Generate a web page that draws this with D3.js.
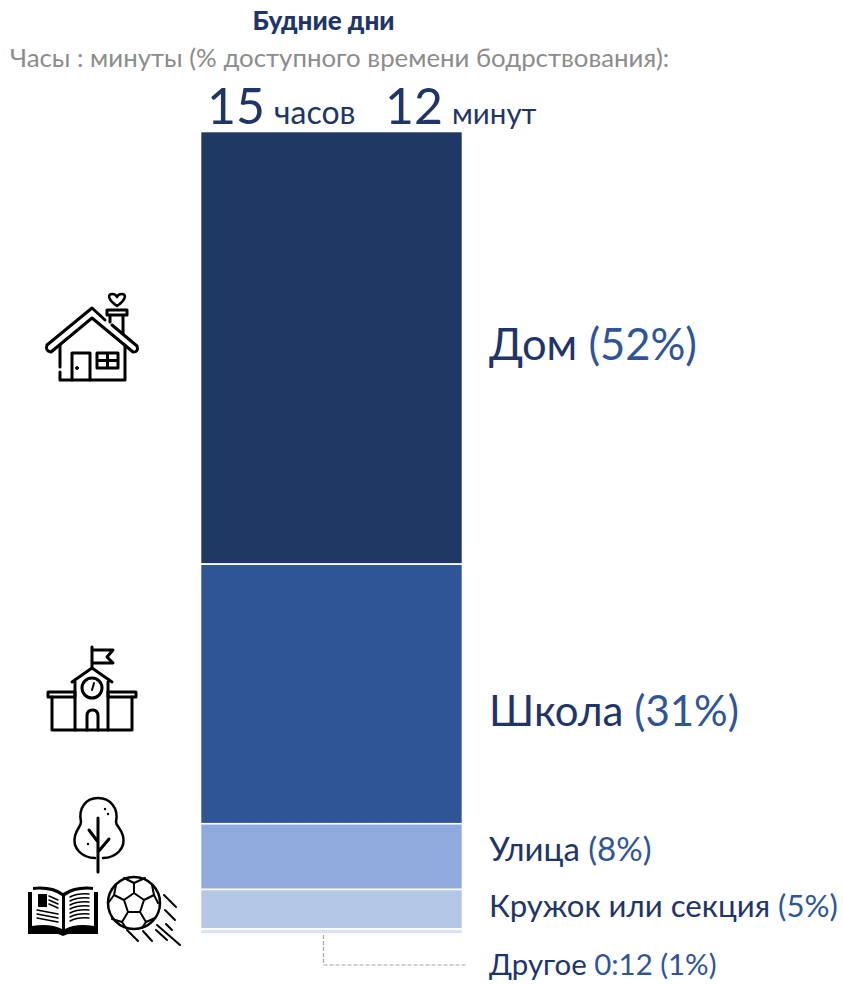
<!DOCTYPE html>
<html>
<head>
<meta charset="utf-8">
<script src="https://cdn.jsdelivr.net/npm/d3@7"></script>
<style>
  html, body { margin: 0; padding: 0; background: #fff; }
  svg { display: block; }
  text { font-family: "Lato", "Noto Sans", sans-serif; }
  .icon { fill: none; stroke: #000; stroke-linecap: round; stroke-linejoin: round; }
</style>
</head>
<body>
<svg width="843" height="985"></svg>
<script>
// data
categories = ["Дом", "Школа", "Улица", "Кружок или секция", "Другое"];
shares = [52, 31.2, 7.9, 4.75, 0.6];
percentLabels = ["(52%)", "(31%)", "(8%)", "(5%)", "0:12 (1%)"];
totalParts = ["15", "часов", "12", "минут"];
colors = ["#203864", "#2f5597", "#8faadc", "#b4c7e7", "#dae3f3"];

darkBlue = "#1f3568";
midBlue = "#2f5597";

svg = d3.select("svg");

// stacked single column
stacked = [];
running = 0;
shares.forEach((v, i) => {
  stacked.push({ name: categories[i], pct: percentLabels[i], y0: running, y1: running + v, color: colors[i] });
  running += v;
});

y = d3.scaleLinear().domain([0, running]).range([131.5, 934]);
x = d3.scaleBand().domain(["Будние дни"]).range([200.5, 462.5]);

svg.selectAll(".bar")
  .data(stacked)
  .enter().append("rect")
    .attr("class", "bar")
    .attr("x", x("Будние дни"))
    .attr("width", x.bandwidth())
    .attr("y", d => y(d.y0))
    .attr("height", d => y(d.y1) - y(d.y0))
    .attr("fill", d => d.color)
    .attr("stroke", "#fff")
    .attr("stroke-width", 1.6);

// titles
svg.append("text").text("Будние дни")
  .attr("x", 323.5).attr("y", 30).attr("text-anchor", "middle")
  .attr("font-size", 26).attr("font-weight", 900).attr("fill", darkBlue);
svg.append("text").text("Часы : минуты (% доступного времени бодрствования):")
  .attr("x", 10).attr("y", 67)
  .attr("font-size", 25.8).attr("fill", "#8c8c8c");

// total above the bar
totalX = [207, 274, 385, 452];
totalSize = [50, 32, 50, 29.5];
totalParts.forEach((t, i) => {
  svg.append("text").text(t)
    .attr("x", totalX[i]).attr("y", 124)
    .attr("font-size", totalSize[i])
    .attr("font-weight", 400)
    .attr("fill", darkBlue);
});

// labels to the right of the bar
labelY = [360, 726, 861, 917, 975];
labelSize = [43.5, 42, 33, 31.2, 29.4];
stacked.forEach((d, i) => {
  t = svg.append("text")
    .attr("x", 489).attr("y", labelY[i])
    .attr("font-size", labelSize[i]);
  t.append("tspan").text(d.name + " ").attr("fill", darkBlue);
  t.append("tspan").text(d.pct).attr("fill", midBlue);
});

// leader line for the thin segment
svg.append("path")
  .attr("d", d3.line()([[323.5, 935], [323.5, 965], [467, 965]]))
  .attr("fill", "none").attr("stroke", "#a6a6a6")
  .attr("stroke-width", 1.2)
  .attr("stroke-dasharray", "4 2");

// icons
icons = svg.append("g").attr("class", "icon");

function strokePath(d, w) {
  return icons.append("path").attr("d", d).attr("stroke-width", w || 3);
}

// house
strokePath("M105 320 L92 308 L47 345 Q45 351 51 352 L92 318 L133 352 Q139 352 137 346 L112 325", 3);
strokePath("M60 345 V367 M60 372 V380 H125 V345", 3);
strokePath("M72 380 V353 H90 V380", 3);
strokePath("M97 353 H118 V368 H97 Z M107.5 353 V368 M97 360.5 H118", 3);
strokePath("M107 310 H127 V315 H107 Z M110 315 V322 M123 315 V333", 3);
strokePath("M117 306 C107 299 108 294 112 294 Q116 294 117 297 Q118 294 122 294 C126 294 127 299 117 306 Z", 2.5);
icons.append("circle").attr("cx", 77).attr("cy", 368).attr("r", 1.5).attr("fill", "#000");

// school
strokePath("M92 667 V647 M92 650 H113 L107 657 L113 663 H93", 3);
strokePath("M72 682 L92 668 L112 682 M75 682 V730 M108 682 V730", 3);
strokePath("M48 692 H75 V697 H48 Z M108 692 H136 V697 H108 Z", 3);
strokePath("M52 697 V730 H132 V697", 3);
strokePath("M87 730 V716 Q87 710 92.500 710 Q98 710 98 716 V730", 3);
icons.append("circle").attr("cx", 92).attr("cy", 688).attr("r", 10).attr("stroke-width", 3);
strokePath("M92 690 L94 683", 2);

// tree
strokePath("M98 818 V872 M89 830 L98 842 M109 839 L98 852", 3);
strokePath("M95 858 C82 858 72 848 75 836 C77 828 81 826 81 822 C78 808 86 798 98 798 C110 798 119 808 116 822 C116 826 121 828 123 836 C126 848 116 858 103 858", 2.5);
[[105, 809], [108, 814], [88, 844]].forEach(p => {
  icons.append("circle").attr("cx", p[0]).attr("cy", p[1]).attr("r", 1.2).attr("fill", "#000").attr("stroke", "none");
});

// book
icons.append("path")
  .attr("d", "M28 892 H33 V887 Q52 885 63 893 Q76 885 93 887 V892 H98 V934 H68 L63 936 L58 934 H28 Z")
  .attr("fill", "#000").attr("stroke", "none");
icons.append("path")
  .attr("d", "M32 890 Q50 888 62 896 V929 Q50 923 32 926 Z M65 896 Q76 888 94 890 V926 Q76 923 65 929 Z")
  .attr("fill", "#fff").attr("stroke", "none");
icons.append("rect").attr("x", 38).attr("y", 894).attr("width", 9).attr("height", 13)
  .attr("fill", "#000").attr("stroke", "none");
strokePath("M49 896 L58 900 M49 900 L58 904 M49 904 L58 908 M37 910 L58 914 M37 914 L58 918 M37 918 L58 922 M70 897 Q78 893 89 894 M70 901 Q78 897 89 898 M70 905 Q78 901 89 902 M70 909 Q78 905 89 906 M70 913 Q78 909 89 910 M70 917 Q78 913 89 914 M70 921 Q78 917 89 918", 1.5);

// ball
icons.append("circle").attr("cx", 134).attr("cy", 903).attr("r", 26).attr("stroke-width", 2.5);
strokePath("M134 893 L144 900 L140 912 L128 912 L124 900 Z M134 893 V883 L124 878 M134 883 L145 878 M144 900 L154 895 L158 903 M124 900 L114 895 L109 902 M140 912 L146 922 L142 928 M128 912 L122 922 L126 928 M114 895 L116 885 M154 895 L152 885 M122 922 L112 919 M146 922 L155 918", 2);
strokePath("M164 895 L176 907 M165 910 L175 920 M157 925 L180 945 M166 924 L172 930 M156 930 L167 940 M143 931 L152 941 M127 930 L138 941", 2);
</script>
</body>
</html>
